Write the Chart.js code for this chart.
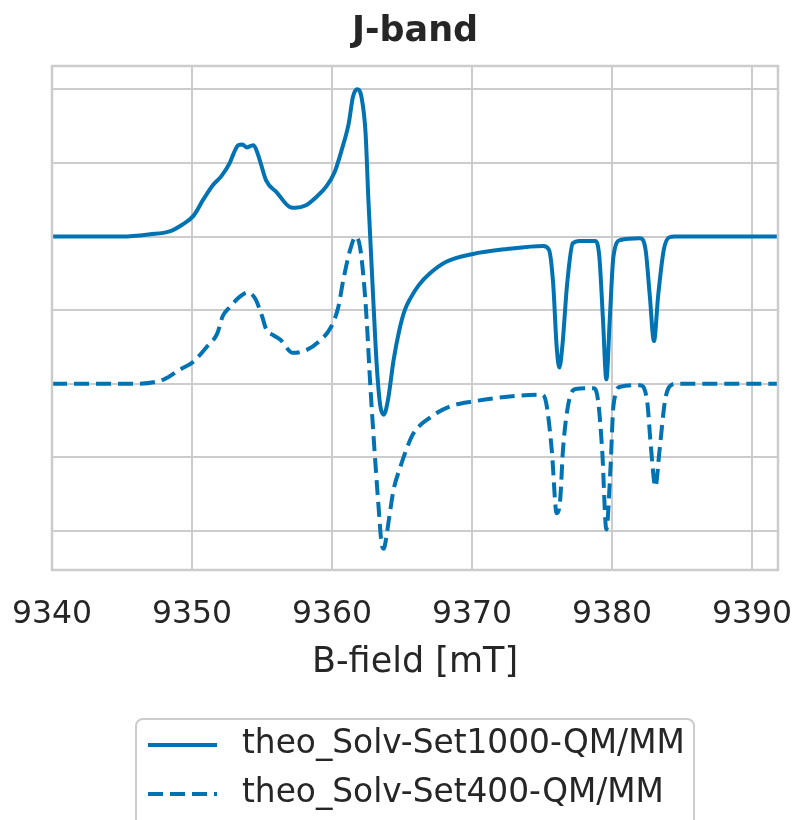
<!DOCTYPE html>
<html>
<head>
<meta charset="utf-8">
<title>J-band</title>
<script src="https://cdn.jsdelivr.net/npm/chart.js@4.4.1/dist/chart.umd.min.js"></script>
<style>
  html, body { margin: 0; padding: 0; background: #ffffff; }
  #wrap { width: 794px; height: 820px; }
</style>
</head>
<body>
<div id="wrap"><canvas id="spectrum" width="794" height="820"></canvas></div>
<script>
// B-field [mT] and signal for the two simulated spectra (signal is already offset for stacking)
const fieldSet1000 = [
  9340.0, 9345.0, 9347.0, 9348.4, 9349.3, 9350.1, 9350.8, 9351.5, 9352.1, 9352.7,
  9353.0, 9353.3, 9353.6, 9353.9, 9354.2, 9354.4, 9354.7, 9354.9, 9355.3, 9356.05,
  9357.0, 9357.4, 9358.1, 9358.9, 9359.6, 9360.2, 9360.7, 9361.2, 9361.5, 9361.8,
  9362.1, 9362.4, 9362.6, 9362.95, 9363.2, 9363.45, 9363.7, 9364.0, 9364.4, 9364.8,
  9365.2, 9365.6, 9366.2, 9367.0, 9368.2, 9370.0, 9372.5, 9375.1, 9375.5, 9375.8,
  9376.05, 9376.24, 9376.45, 9376.8, 9377.2, 9377.7, 9378.8, 9379.1, 9379.35, 9379.6,
  9379.85, 9380.1, 9380.6, 9382.0, 9382.4, 9382.7, 9383.0, 9383.3, 9383.7, 9384.1,
  9384.5, 9391.86
];
const signalSet1000 = [
  0, 0, 0.015, 0.035, 0.08, 0.14, 0.25, 0.35, 0.41, 0.50,
  0.57, 0.62, 0.625, 0.605, 0.615, 0.62, 0.56, 0.50, 0.38, 0.30,
  0.20, 0.195, 0.21, 0.27, 0.34, 0.44, 0.59, 0.77, 0.95, 1.0,
  0.95, 0.70, 0.25, -0.43, -0.88, -1.15, -1.21, -1.11, -0.84, -0.64,
  -0.50, -0.42, -0.33, -0.25, -0.17, -0.12, -0.085, -0.064, -0.09, -0.32,
  -0.75, -0.89, -0.75, -0.32, -0.046, -0.03, -0.03, -0.14, -0.55, -0.97,
  -0.55, -0.14, -0.024, -0.012, -0.09, -0.40, -0.71, -0.40, -0.09, -0.005,
  0, 0
];

const fieldSet400 = [
  9340.0, 9346.0, 9348.0, 9349.1, 9350.1, 9351.05, 9351.8, 9352.2, 9352.7, 9353.4,
  9354.0, 9354.5, 9355.0, 9355.3, 9355.8, 9356.3, 9357.2, 9358.2, 9359.1, 9359.9,
  9360.45, 9360.8, 9361.3, 9361.7, 9362.0, 9362.3, 9362.5, 9362.7, 9363.0, 9363.3,
  9363.55, 9363.7, 9363.85, 9364.1, 9364.4, 9364.9, 9365.3, 9365.8, 9367.0, 9368.4,
  9370.1, 9372.7, 9375.0, 9375.3, 9375.7, 9376.05, 9376.3, 9376.5, 9376.9, 9377.4,
  9378.7, 9379.0, 9379.3, 9379.6, 9379.9, 9380.1, 9380.6, 9382.0, 9382.5, 9382.8,
  9383.1, 9383.4, 9383.8, 9384.3, 9384.6, 9391.86
];
const signalSet400 = [
  -1.0, -1.0, -0.97, -0.906, -0.85, -0.75, -0.66, -0.54, -0.48, -0.41,
  -0.38, -0.42, -0.54, -0.63, -0.67, -0.70, -0.79, -0.77, -0.71, -0.62,
  -0.48, -0.30, -0.09, 0.0, -0.07, -0.33, -0.60, -0.95, -1.40, -1.80,
  -2.09, -2.12, -2.06, -1.90, -1.72, -1.56, -1.45, -1.34, -1.23, -1.155,
  -1.12, -1.087, -1.075, -1.13, -1.45, -1.88, -1.79, -1.45, -1.13, -1.035,
  -1.03, -1.11, -1.45, -1.99, -1.56, -1.155, -1.02, -1.01, -1.11, -1.45,
  -1.70, -1.45, -1.11, -1.005, -1.0, -1.0
];

const seriesNames = ["theo_Solv-Set1000-QM/MM", "theo_Solv-Set400-QM/MM"];
const fieldTicks = [9340, 9350, 9360, 9370, 9380, 9390];

const blue = "#0173b2";
const textColor = "#262626";
const gridColor = "#cccccc";

Chart.defaults.font.family = "'DejaVu Sans', sans-serif";
Chart.defaults.color = textColor;

function toPoints(xs, ys) {
  return xs.map((x, i) => ({ x: x, y: ys[i] }));
}

// matplotlib-style frame on all four sides, drawn over the lines
const framePlugin = {
  id: "frame",
  afterDatasetsDraw(chart) {
    const { ctx, chartArea } = chart;
    ctx.save();
    ctx.strokeStyle = gridColor;
    ctx.lineWidth = 2.5;
    ctx.strokeRect(chartArea.left, chartArea.top,
      chartArea.right - chartArea.left, chartArea.bottom - chartArea.top);
    ctx.restore();
  },
};

// boxed legend below the axis title, one row per dataset
const boxLegend = {
  id: "boxLegend",
  afterDraw(chart) {
    const ctx = chart.ctx;
    ctx.save();
    ctx.beginPath();
    ctx.roundRect(136, 719, 558, 130, 7);
    ctx.fillStyle = "rgba(255,255,255,0.8)";
    ctx.fill();
    ctx.strokeStyle = gridColor;
    ctx.lineWidth = 2;
    ctx.stroke();

    chart.data.datasets.forEach((ds, i) => {
      const y = 745 + i * 49;
      ctx.beginPath();
      ctx.setLineDash(ds.borderDash || []);
      ctx.strokeStyle = ds.borderColor;
      ctx.lineWidth = ds.borderWidth;
      ctx.lineCap = "butt";
      ctx.moveTo(148, y);
      ctx.lineTo(217, y);
      ctx.stroke();
      ctx.setLineDash([]);
      ctx.fillStyle = textColor;
      ctx.font = "32.8px 'DejaVu Sans'";
      ctx.textBaseline = "middle";
      ctx.textAlign = "left";
      ctx.fillText(ds.label, 242, y - 1);
    });
    ctx.restore();
  },
};

new Chart(document.getElementById("spectrum"), {
  type: "line",
  data: {
    datasets: [
      {
        label: seriesNames[0],
        data: toPoints(fieldSet1000, signalSet1000),
        borderColor: blue,
        borderWidth: 4,
        pointRadius: 0,
        cubicInterpolationMode: "monotone",
        fill: false,
      },
      {
        label: seriesNames[1],
        data: toPoints(fieldSet400, signalSet400),
        borderColor: blue,
        borderWidth: 4,
        borderDash: [15, 7],
        pointRadius: 0,
        cubicInterpolationMode: "monotone",
        fill: false,
      },
    ],
  },
  options: {
    responsive: false,
    animation: false,
    layout: { padding: { left: 52, right: 16, top: 0, bottom: 105 } },
    plugins: {
      legend: { display: false },
      tooltip: { enabled: false },
      title: {
        display: true,
        text: "J-band",
        fullSize: false,
        color: textColor,
        font: { size: 35, weight: "bold", lineHeight: 1.2 },
        padding: { top: 11, bottom: 13 },
      },
    },
    scales: {
      x: {
        type: "linear",
        min: 9340,
        max: 9391.86,
        afterBuildTicks(scale) {
          scale.ticks = fieldTicks.map((v) => ({ value: v }));
        },
        afterFit(scale) {
          scale.height = 145;
          scale.paddingLeft = 0;
          scale.paddingRight = 0;
        },
        grid: { color: gridColor, lineWidth: 2, drawTicks: false },
        border: { display: false },
        ticks: {
          padding: 26,
          color: textColor,
          font: { size: 31.5, lineHeight: 1.2 },
          maxRotation: 0,
          callback: (v) => String(v),
        },
        title: {
          display: true,
          text: "B-field [mT]",
          color: textColor,
          font: { size: 35, lineHeight: 1.2 },
          padding: { top: 0, bottom: 31 },
        },
      },
      y: {
        min: -2.265,
        max: 1.158,
        afterBuildTicks(scale) {
          scale.ticks = [-2, -1.5, -1, -0.5, 0, 0.5, 1].map((v) => ({ value: v }));
        },
        afterFit(scale) {
          scale.width = 0;
        },
        grid: { color: gridColor, lineWidth: 2, drawTicks: false },
        border: { display: false },
        ticks: { display: false },
      },
    },
  },
  plugins: [framePlugin, boxLegend],
});
</script>
</body>
</html>
